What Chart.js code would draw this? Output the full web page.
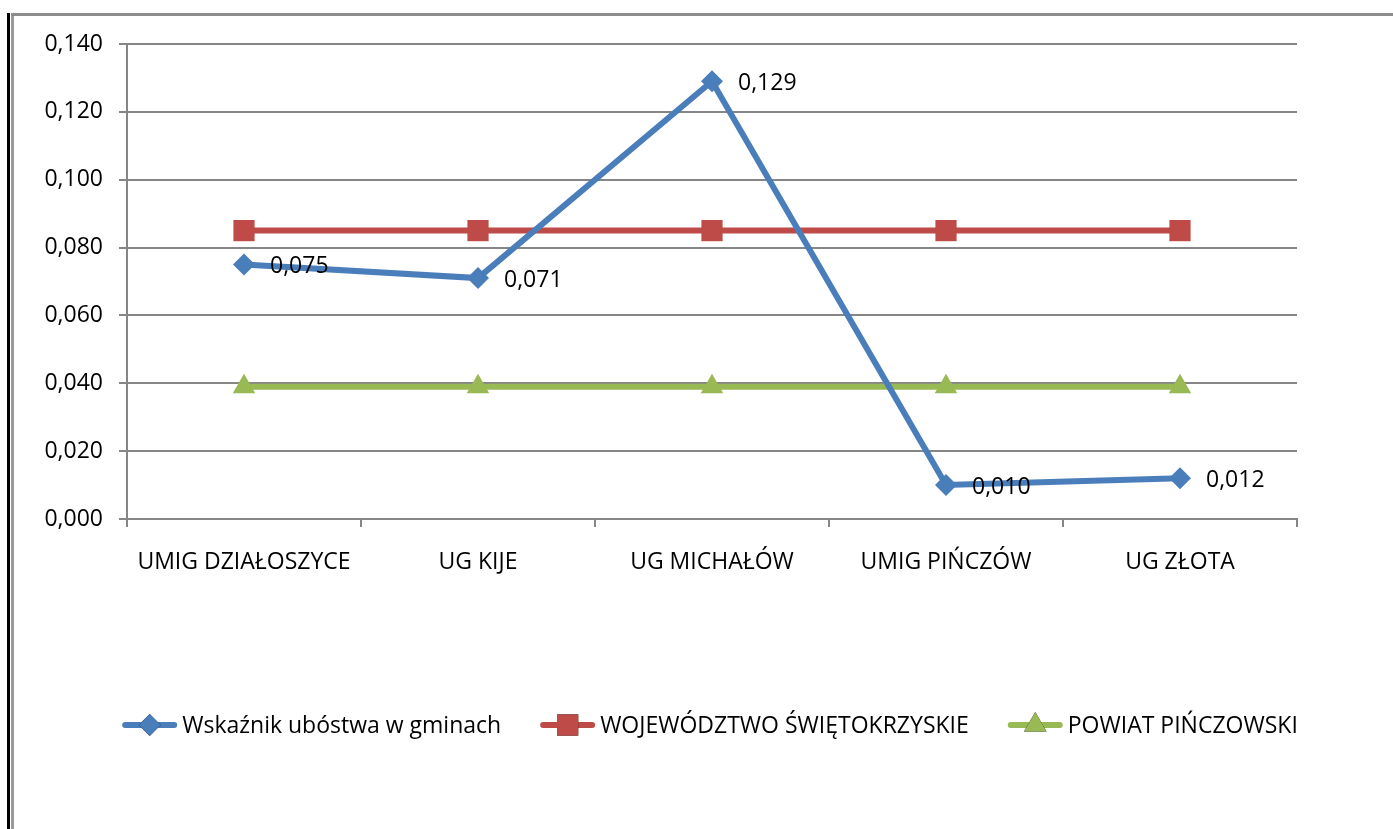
<!DOCTYPE html>
<html>
<head>
<meta charset="utf-8">
<script src="https://cdn.jsdelivr.net/npm/chart.js@4.4.1/dist/chart.umd.min.js"></script>
<style>
  html, body { margin: 0; padding: 0; background: #fff; }
  #wrap { position: relative; width: 1393px; height: 829px; overflow: hidden; }
  #chart { position: absolute; left: 0; top: 0; }
  .edge-black { position: absolute; left: 7px; top: 13px; width: 3px; height: 829px; background: #000; }
  .edge-gray-v { position: absolute; left: 11px; top: 13px; width: 3px; height: 829px; background: #9a9a9a; }
  .edge-gray-h { position: absolute; left: 11px; top: 13px; width: 1400px; height: 3px; background: #8c8c8c; }
</style>
</head>
<body>
<div id="wrap">
  <canvas id="chart" width="1393" height="829"></canvas>
  <div class="edge-black"></div>
  <div class="edge-gray-v"></div>
  <div class="edge-gray-h"></div>
</div>
<script>
const categories = ['UMIG DZIAŁOSZYCE', 'UG KIJE', 'UG MICHAŁÓW', 'UMIG PIŃCZÓW', 'UG ZŁOTA'];
const gminyValues = [0.075, 0.071, 0.129, 0.010, 0.012];
const wojewodztwoValues = [0.085, 0.085, 0.085, 0.085, 0.085];
const powiatValues = [0.039, 0.039, 0.039, 0.039, 0.039];
const seriesNames = ['Wskaźnik ubóstwa w gminach', 'WOJEWÓDZTWO ŚWIĘTOKRZYSKIE', 'POWIAT PIŃCZOWSKI'];
const yTicks = [0, 0.02, 0.04, 0.06, 0.08, 0.10, 0.12, 0.14];

const FONT = '"Open Sans", Lato, sans-serif';
const FONT_SIZE = 23;
const colors = {
    blue: '#4A7EBB',
    red: '#BE4B48',
    green: '#98B954',
    grid: '#868686'
};

const fmt = v => v.toFixed(3).replace('.', ',');

// data labels to the right of the blue points
const valueLabels = {
    id: 'valueLabels',
    afterDatasetsDraw(chart) {
        const ctx = chart.ctx;
        const meta = chart.getDatasetMeta(0);
        ctx.save();
        ctx.font = FONT_SIZE + 'px ' + FONT;
        ctx.fillStyle = '#000';
        ctx.textBaseline = 'middle';
        ctx.textAlign = 'left';
        meta.data.forEach((pt, i) => {
            ctx.fillText(fmt(gminyValues[i]), pt.x + 26, pt.y + 2);
        });
        ctx.restore();
    }
};

// legend: line with marker in the middle, like the office one
const lineLegend = {
    id: 'lineLegend',
    afterDraw(chart) {
        const ctx = chart.ctx;
        const y = 725;
        const lineW = 55, gapText = 5, gapItem = 39;
        ctx.save();
        ctx.font = FONT_SIZE + 'px ' + FONT;
        const widths = seriesNames.map(n => ctx.measureText(n).width);
        const total = widths.reduce((s, w) => s + lineW + gapText + w, 0) + gapItem * (seriesNames.length - 1);
        let x = 710 - total / 2;
        chart.data.datasets.forEach((ds, i) => {
            ctx.strokeStyle = ds.borderColor;
            ctx.lineWidth = 6;
            ctx.lineCap = 'round';
            ctx.beginPath();
            ctx.moveTo(x + 3, y);
            ctx.lineTo(x + lineW - 3, y);
            ctx.stroke();
            Chart.helpers.drawPoint(ctx, {
                pointStyle: ds.pointStyle,
                radius: ds.pointRadius,
                borderWidth: 0
            }, x + lineW / 2, y);
            ctx.fillStyle = ds.backgroundColor;
            ctx.fill();
            ctx.fillStyle = '#000';
            ctx.textBaseline = 'middle';
            ctx.textAlign = 'left';
            ctx.fillText(seriesNames[i], x + lineW + gapText, y + 1);
            x += lineW + gapText + widths[i] + gapItem;
        });
        ctx.restore();
    }
};

const makeSeries = (label, data, color, style, radius) => ({
    label: label,
    data: data,
    borderColor: color,
    backgroundColor: color,
    borderWidth: 6,
    pointStyle: style,
    pointRadius: radius,
    pointHoverRadius: radius,
    pointBorderWidth: 0,
    pointBackgroundColor: color,
    tension: 0
});

const ctx = document.getElementById('chart').getContext('2d');
new Chart(ctx, {
    type: 'line',
    data: {
        labels: categories,
        datasets: [
            makeSeries(seriesNames[0], gminyValues, colors.blue, 'rectRot', 11),
            makeSeries(seriesNames[1], wojewodztwoValues, colors.red, 'rect', 15),
            makeSeries(seriesNames[2], powiatValues, colors.green, 'triangle', 13)
        ]
    },
    options: {
        responsive: false,
        animation: false,
        layout: { padding: { top: 44, right: 96, left: 0, bottom: 0 } },
        plugins: {
            legend: { display: false },
            tooltip: { enabled: false }
        },
        scales: {
            x: {
                offset: true,
                grid: {
                    offset: true,
                    drawOnChartArea: false,
                    drawTicks: true,
                    tickLength: 8,
                    color: colors.grid,
                    lineWidth: 2
                },
                border: { color: colors.grid, width: 2 },
                ticks: {
                    color: '#000',
                    font: { family: FONT, size: FONT_SIZE },
                    padding: 22,
                    maxRotation: 0,
                    autoSkip: false
                },
                afterFit(scale) { scale.height = 829 - 519; }
            },
            y: {
                min: 0,
                max: 0.14,
                afterBuildTicks(scale) { scale.ticks = yTicks.map(v => ({ value: v })); },
                grid: {
                    color: colors.grid,
                    lineWidth: 2,
                    tickLength: 8
                },
                border: { color: colors.grid, width: 2 },
                ticks: {
                    color: '#000',
                    font: { family: FONT, size: FONT_SIZE },
                    padding: 16,
                    callback: v => fmt(v)
                },
                afterFit(scale) { scale.width = 127; }
            }
        }
    },
    plugins: [valueLabels, lineLegend]
});
</script>
</body>
</html>
